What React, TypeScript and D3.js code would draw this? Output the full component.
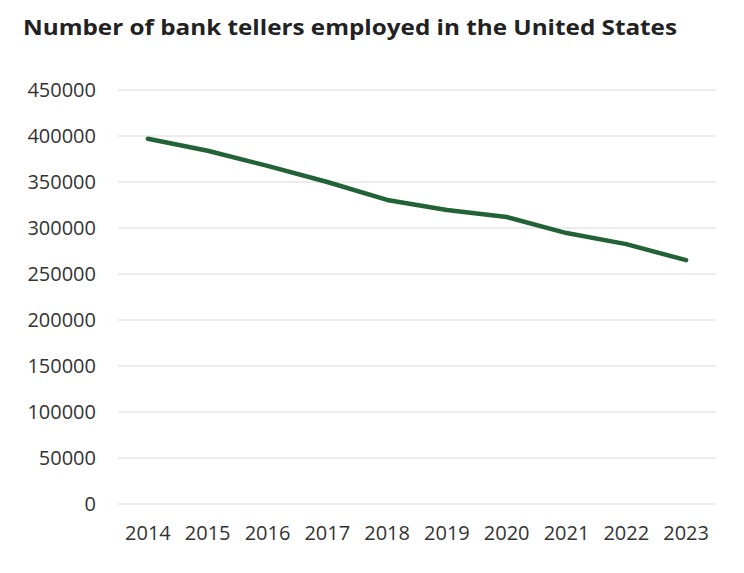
import * as d3 from 'd3';

const years = ['2014', '2015', '2016', '2017', '2018', '2019', '2020', '2021', '2022', '2023'];
const tellers = [397000, 384000, 367500, 350000, 330500, 319500, 312000, 294500, 282500, 265000];
const yTicks = [0, 50000, 100000, 150000, 200000, 250000, 300000, 350000, 400000, 450000];

const W = 744;
const H = 573;
const left = 118;
const right = 716;
const top = 90;
const bottom = 504;

export default function App() {
  const x = d3.scaleBand<string>().domain(years).range([left, right]);
  const y = d3.scaleLinear().domain([0, 450000]).range([bottom, top]);
  const line = d3
    .line<number>()
    .x((_, i) => (x(years[i]) as number) + x.bandwidth() / 2)
    .y((d) => y(d));

  return (
    <svg width={W} height={H} style={{ position: 'absolute', left: 0, top: 0, fontFamily: '"Open Sans", sans-serif' }}>
      <rect width={W} height={H} fill="#fff" />
      <text x={23} y={35} fontSize={21} fontWeight={700} fill="#222" textLength={654} lengthAdjust="spacingAndGlyphs">
        Number of bank tellers employed in the United States
      </text>
      {yTicks.map((t) => (
        <g key={t}>
          <line x1={left} x2={right} y1={y(t)} y2={y(t)} stroke="#d9d9d9" strokeWidth={1} />
          <text x={96} y={y(t)} dy="0.35em" textAnchor="end" fontSize={20} fill="#333">
            {t}
          </text>
        </g>
      ))}
      {years.map((yr) => (
        <text key={yr} x={(x(yr) as number) + x.bandwidth() / 2} y={540} textAnchor="middle" fontSize={20} fill="#333">
          {yr}
        </text>
      ))}
      <path d={line(tellers) ?? ''} fill="none" stroke="#236236" strokeWidth={4.5} strokeLinejoin="round" strokeLinecap="round" />
    </svg>
  );
}
